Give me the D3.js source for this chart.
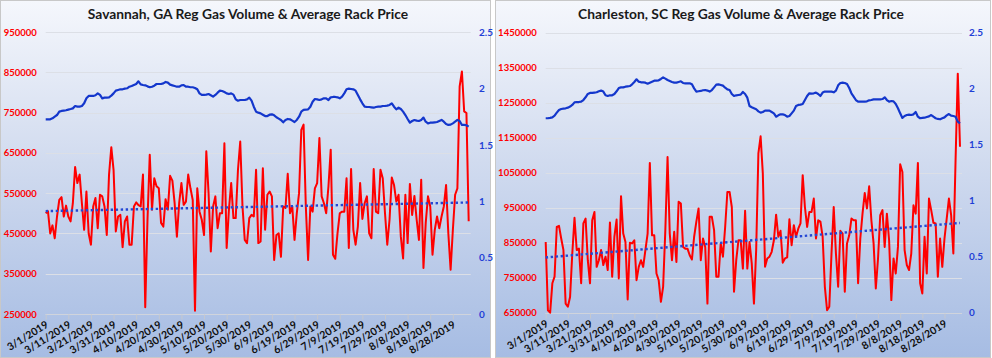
<!DOCTYPE html>
<html>
<head>
<meta charset="utf-8">
<script src="https://cdn.jsdelivr.net/npm/d3@7"></script>
<style>
  body { margin: 0; background: #ffffff; }
  svg { display: block; }
</style>
</head>
<body>
<div id="chart"></div>
<script>
// daily values, 3/1/2019 .. 9/4/2019
var savVolume = [
  500000, 505000, 450000, 470000, 438000, 492000, 533000, 540000, 492000, 519000,
  492000, 480000, 525000, 615000, 575000, 596000, 525000, 459000, 554000, 450000,
  422000, 517000, 538000, 463000, 546000, 542000, 517000, 446000, 596000, 664000,
  608000, 455000, 492000, 496000, 416000, 480000, 492000, 422000, 422000, 517000,
  527000, 520000, 517000, 596000, 267000, 484000, 645000, 509000, 587000, 567000,
  562000, 476000, 467000, 535000, 509000, 593000, 581000, 525000, 442000, 525000,
  575000, 521000, 529000, 596000, 562000, 533000, 258000, 562000, 504000, 484000,
  446000, 654000, 550000, 405000, 517000, 542000, 463000, 500000, 500000, 674000,
  414000, 509000, 575000, 488000, 488000, 608000, 678000, 517000, 434000, 426000,
  488000, 496000, 492000, 608000, 426000, 430000, 612000, 459000, 546000, 554000,
  542000, 384000, 446000, 450000, 392000, 517000, 513000, 598000, 500000, 517000,
  434000, 500000, 550000, 707000, 720000, 517000, 384000, 517000, 504000, 562000,
  575000, 687000, 542000, 525000, 500000, 567000, 658000, 397000, 387000, 450000,
  500000, 504000, 504000, 587000, 414000, 610000, 459000, 422000, 467000, 575000,
  486000, 525000, 542000, 450000, 438000, 610000, 504000, 500000, 608000, 587000,
  500000, 422000, 484000, 589000, 570000, 529000, 546000, 442000, 388000, 546000,
  426000, 573000, 496000, 543000, 484000, 434000, 583000, 364000, 476000, 542000,
  517000, 397000, 459000, 492000, 463000, 492000, 517000, 570000, 450000, 360000,
  459000, 546000, 562000, 815000, 852000, 753000, 749000, 480000
];
var savPrice = [
  1.726, 1.726, 1.726, 1.735, 1.750, 1.764, 1.794, 1.800, 1.803, 1.806,
  1.812, 1.817, 1.823, 1.844, 1.838, 1.838, 1.844, 1.868, 1.912, 1.933,
  1.933, 1.933, 1.939, 1.956, 1.942, 1.912, 1.918, 1.918, 1.921, 1.936,
  1.956, 1.980, 1.986, 1.992, 1.992, 1.998, 2.001, 2.015, 2.021, 2.030,
  2.039, 2.063, 2.036, 2.030, 2.027, 2.018, 2.010, 2.015, 2.024, 2.039,
  2.039, 2.039, 2.045, 2.057, 2.051, 2.033, 2.027, 2.021, 2.015, 2.015,
  2.027, 2.030, 2.015, 2.015, 2.010, 2.010, 2.004, 1.992, 1.956, 1.942,
  1.942, 1.945, 1.950, 1.939, 1.927, 1.942, 1.962, 1.980, 1.977, 1.968,
  1.956, 1.950, 1.956, 1.945, 1.903, 1.891, 1.897, 1.897, 1.897, 1.903,
  1.918, 1.891, 1.838, 1.794, 1.785, 1.779, 1.767, 1.755, 1.755, 1.767,
  1.770, 1.761, 1.744, 1.732, 1.720, 1.699, 1.720, 1.729, 1.726, 1.714,
  1.702, 1.720, 1.749, 1.794, 1.809, 1.811, 1.814, 1.838, 1.882, 1.906,
  1.903, 1.897, 1.903, 1.912, 1.912, 1.897, 1.921, 1.924, 1.924, 1.921,
  1.912, 1.927, 1.956, 1.992, 1.998, 1.995, 1.992, 1.980, 1.942, 1.903,
  1.868, 1.838, 1.835, 1.835, 1.832, 1.829, 1.835, 1.838, 1.838, 1.844,
  1.844, 1.847, 1.853, 1.868, 1.838, 1.814, 1.829, 1.817, 1.794, 1.764,
  1.729, 1.696, 1.711, 1.720, 1.714, 1.711, 1.720, 1.741, 1.705, 1.690,
  1.696, 1.696, 1.699, 1.702, 1.711, 1.720, 1.705, 1.684, 1.676, 1.679,
  1.690, 1.705, 1.720, 1.711, 1.676, 1.676, 1.673, 1.661
];
var chsVolume = [
  852000, 657000, 650000, 734000, 753000, 895000, 898000, 862000, 829000, 676000,
  667000, 695000, 819000, 921000, 829000, 833000, 734000, 905000, 919000, 800000,
  734000, 914000, 938000, 781000, 800000, 829000, 786000, 810000, 772000, 908000,
  753000, 867000, 916000, 748000, 983000, 876000, 852000, 688000, 850000, 848000,
  857000, 743000, 781000, 800000, 781000, 829000, 876000, 1078000, 871000, 871000,
  762000, 743000, 681000, 724000, 886000, 1095000, 876000, 800000, 881000, 795000,
  967000, 962000, 838000, 833000, 833000, 814000, 802000, 867000, 910000, 948000,
  800000, 862000, 838000, 676000, 924000, 924000, 886000, 753000, 753000, 848000,
  810000, 895000, 995000, 995000, 952000, 710000, 800000, 857000, 857000, 776000,
  941000, 776000, 852000, 791000, 676000, 829000, 1105000, 1154000, 1048000, 781000,
  805000, 810000, 824000, 857000, 930000, 867000, 884000, 793000, 805000, 808000,
  917000, 843000, 900000, 867000, 890000, 905000, 1043000, 952000, 895000, 938000,
  938000, 976000, 862000, 914000, 910000, 867000, 724000, 657000, 667000, 819000,
  952000, 819000, 724000, 884000, 876000, 710000, 848000, 871000, 919000, 914000,
  914000, 734000, 862000, 933000, 992000, 948000, 1011000, 914000, 848000, 719000,
  805000, 929000, 943000, 838000, 933000, 857000, 686000, 805000, 762000, 838000,
  1074000, 1052000, 829000, 786000, 772000, 819000, 957000, 933000, 1078000, 734000,
  705000, 867000, 762000, 976000, 943000, 907000, 905000, 753000, 862000, 781000,
  862000, 919000, 976000, 929000, 819000, 1086000, 1333000, 1124000
];
var chsPrice = [
  1.736, 1.736, 1.739, 1.744, 1.759, 1.786, 1.810, 1.819, 1.822, 1.825,
  1.831, 1.840, 1.855, 1.878, 1.881, 1.881, 1.884, 1.899, 1.923, 1.953,
  1.962, 1.962, 1.965, 1.968, 1.977, 1.983, 1.974, 1.941, 1.935, 1.941,
  1.941, 1.953, 1.977, 2.006, 2.012, 2.012, 2.018, 2.021, 2.024, 2.039,
  2.060, 2.084, 2.063, 2.057, 2.057, 2.054, 2.045, 2.054, 2.063, 2.072,
  2.072, 2.075, 2.087, 2.101, 2.090, 2.078, 2.069, 2.060, 2.054, 2.054,
  2.060, 2.066, 2.051, 2.048, 2.048, 2.048, 2.039, 2.003, 1.974, 1.977,
  1.980, 1.986, 1.988, 1.983, 1.974, 1.988, 2.012, 2.036, 2.039, 2.033,
  2.027, 2.009, 1.994, 1.988, 1.953, 1.935, 1.941, 1.944, 1.947, 1.971,
  1.953, 1.920, 1.846, 1.834, 1.825, 1.816, 1.798, 1.786, 1.792, 1.804,
  1.804, 1.804, 1.792, 1.780, 1.750, 1.762, 1.771, 1.771, 1.765, 1.750,
  1.756, 1.780, 1.804, 1.846, 1.855, 1.858, 1.864, 1.899, 1.935, 1.959,
  1.956, 1.959, 1.965, 1.953, 1.935, 1.965, 1.974, 1.974, 1.974, 1.974,
  1.968, 1.983, 2.030, 2.051, 2.054, 2.051, 2.042, 2.006, 1.959, 1.929,
  1.899, 1.884, 1.884, 1.884, 1.884, 1.887, 1.896, 1.899, 1.905, 1.905,
  1.905, 1.905, 1.908, 1.923, 1.899, 1.884, 1.890, 1.887, 1.864, 1.825,
  1.780, 1.739, 1.756, 1.765, 1.768, 1.765, 1.771, 1.792, 1.750, 1.736,
  1.739, 1.741, 1.747, 1.753, 1.765, 1.750, 1.736, 1.730, 1.727, 1.736,
  1.744, 1.762, 1.774, 1.759, 1.756, 1.750, 1.706, 1.691
];

var tickLabels = ["3/1/2019", "3/11/2019", "3/21/2019", "3/31/2019", "4/10/2019", "4/20/2019",
  "4/30/2019", "5/10/2019", "5/20/2019", "5/30/2019", "6/9/2019", "6/19/2019", "6/29/2019",
  "7/9/2019", "7/19/2019", "7/29/2019", "8/8/2019", "8/18/2019", "8/28/2019"];
var savVolumeTicks = [250000, 350000, 450000, 550000, 650000, 750000, 850000, 950000];
var chsVolumeTicks = [650000, 750000, 850000, 950000, 1050000, 1150000, 1250000, 1350000, 1450000];
var priceTicks = [0, 0.5, 1, 1.5, 2, 2.5];
var titles = ["Savannah, GA Reg Gas Volume & Average Rack Price",
  "Charleston, SC Reg Gas Volume & Average Rack Price"];

var W = 992, H = 358;
var FONT = "Lato, 'Open Sans', sans-serif";
var parseDate = d3.timeParse("%m/%d/%Y");
var days = d3.timeDay.range(new Date(2019, 2, 1), new Date(2019, 8, 5));

var svg = d3.select("#chart").append("svg").attr("width", W).attr("height", H);

var grad = svg.append("defs").append("linearGradient")
  .attr("id", "bg").attr("x1", 0).attr("y1", 0).attr("x2", 0).attr("y2", 1);
grad.append("stop").attr("offset", "0%").attr("stop-color", "#f5f7fc");
grad.append("stop").attr("offset", "45%").attr("stop-color", "#d1dbef");
grad.append("stop").attr("offset", "100%").attr("stop-color", "#a6bce3");

function trend(values) {
  var n = values.length;
  var mx = (n - 1) / 2, my = d3.mean(values);
  var sxy = 0, sxx = 0;
  values.forEach(function(v, i) {
    sxy += (i - mx) * (v - my);
    sxx += (i - mx) * (i - mx);
  });
  var b = sxy / sxx;
  return [0, n - 1].map(function(i) { return { date: days[i], v: my + b * (i - mx) }; });
}

function panel(o) {
  var g = svg.append("g");

  g.append("rect")
    .attr("x", o.left + 0.5).attr("y", 0.5)
    .attr("width", o.width).attr("height", H - 1)
    .attr("fill", "url(#bg)").attr("stroke", "#c8c8c8");

  var x = d3.scaleTime().domain([days[0], days[days.length - 1]]).range([o.x0, o.x1]);
  var y = d3.scaleLinear().domain(d3.extent(o.volTicks)).range([o.bottom, o.top]);
  var y2 = d3.scaleLinear().domain([0, 2.5]).range([o.bottom, o.top]);

  // gridlines
  g.selectAll("line.grid").data(o.volTicks).enter().append("line")
    .attr("class", "grid")
    .attr("x1", o.x0).attr("x2", o.x1 + 2)
    .attr("y1", function(d) { return Math.round(y(d)) + 0.5; })
    .attr("y2", function(d) { return Math.round(y(d)) + 0.5; })
    .attr("stroke", "#dcdfe6").attr("stroke-width", 1);

  // left axis
  var yAxis = d3.axisLeft(y).tickValues(o.volTicks).tickSize(0).tickPadding(9).tickFormat(d3.format("d"));
  var ga = g.append("g").attr("transform", "translate(" + o.x0 + ",0)").call(yAxis);
  ga.select(".domain").remove();
  ga.selectAll("text").attr("fill", "#ff0000").attr("font-family", FONT)
    .attr("font-weight", "bold").attr("font-size", 9.5);

  // right axis
  var y2Axis = d3.axisRight(y2).tickValues(priceTicks).tickSize(0).tickPadding(0).tickFormat(d3.format("~g"));
  var gb = g.append("g").attr("transform", "translate(" + o.rightLabelX + ",0)").call(y2Axis);
  gb.select(".domain").remove();
  gb.selectAll("text").attr("fill", "#1f3fd6").attr("font-family", FONT)
    .attr("font-weight", "bold").attr("font-size", 10);

  // x axis
  var xAxis = d3.axisBottom(x).tickValues(tickLabels.map(parseDate)).tickSize(5)
    .tickFormat(function(d, i) { return tickLabels[i]; });
  var gx = g.append("g").attr("transform", "translate(0," + (Math.round(o.bottom) + 0.5) + ")").call(xAxis);
  gx.select(".domain").attr("stroke", "#d0d4dc").attr("d", "M" + o.x0 + ",0H" + (o.x1 + 2));
  gx.selectAll(".tick line").attr("stroke", "#c4c8d0");
  gx.selectAll("text")
    .attr("y", 0).attr("dy", 0)
    .attr("text-anchor", "end")
    .attr("transform", "translate(3,12) rotate(-32)")
    .attr("fill", "#111111").attr("font-family", FONT)
    .attr("font-weight", "bold").attr("font-size", 10.5);

  // volume line
  var vol = o.volume.map(function(v, i) { return { date: days[i], v: v }; });
  g.append("path").datum(vol)
    .attr("fill", "none").attr("stroke", "#ff0000").attr("stroke-width", 2)
    .attr("stroke-linejoin", "round")
    .attr("d", d3.line().x(function(d) { return x(d.date); }).y(function(d) { return y(d.v); }));

  // price line
  var price = o.price.map(function(v, i) { return { date: days[i], v: v }; });
  g.append("path").datum(price)
    .attr("fill", "none").attr("stroke", "#1437cc").attr("stroke-width", 2.2)
    .attr("stroke-linejoin", "round")
    .attr("d", d3.line().x(function(d) { return x(d.date); }).y(function(d) { return y2(d.v); }));

  // linear trend of volume
  g.append("path").datum(trend(o.volume))
    .attr("fill", "none").attr("stroke", "#2447d4").attr("stroke-width", 2.4)
    .attr("stroke-dasharray", "2.4 2.6")
    .attr("d", d3.line().x(function(d) { return x(d.date); }).y(function(d) { return y(d.v); }));

  // title
  g.append("text")
    .attr("x", o.titleX).attr("y", 19)
    .attr("text-anchor", "middle")
    .attr("font-family", FONT).attr("font-weight", "bold").attr("font-size", 13.8)
    .attr("fill", "#1a1a1a")
    .text(o.title);
}

panel({
  left: 0, width: 490, x0: 45.7, x1: 468.7, top: 32, bottom: 314,
  rightLabelX: 479, titleX: 248,
  volTicks: savVolumeTicks, volume: savVolume, price: savPrice, title: titles[0]
});

panel({
  left: 495, width: 495, x0: 545.7, x1: 960, top: 32.7, bottom: 312.7,
  rightLabelX: 969, titleX: 741,
  volTicks: chsVolumeTicks, volume: chsVolume, price: chsPrice, title: titles[1]
});
</script>
</body>
</html>
